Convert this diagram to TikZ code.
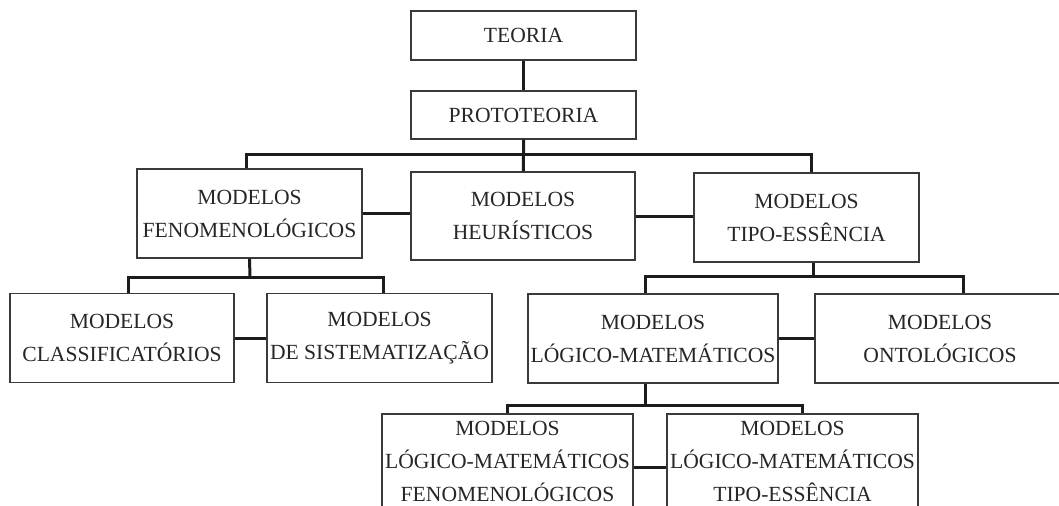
\documentclass[tikz,border=0pt]{standalone}
\usepackage{fontspec}
\setmainfont{Liberation Serif}
\usepackage{xcolor}
\usepackage{tikz}
\definecolor{edgec}{HTML}{3A3A3A}
\definecolor{linec}{HTML}{1C1C1C}
\definecolor{textc}{HTML}{262626}
\tikzset{
  box/.style={draw=edgec,line width=0.7pt,align=center,inner sep=0pt,text=textc,font=\fontsize{10.8}{16.5}\selectfont},
  wbox/.style={box,minimum width=112.5pt,minimum height=44.5pt},
  link/.style={line width=1.5pt,linec}
}
\begin{document}
\begin{tikzpicture}[x=0.5pt,y=-0.5pt]
\useasboundingbox (0,0) rectangle (1059,505);
\clip (0,0) rectangle (1059,505);
\node[box,minimum width=112.5pt,minimum height=24.5pt] (teoria) at (523.5,35.5) {TEORIA};
\node[box,minimum width=112.5pt,minimum height=24pt] (proto) at (523.5,115) {PROTOTEORIA};
\node[wbox] (feno) at (249.5,213.5) {MODELOS\\FENOMENOLÓGICOS};
\node[wbox,minimum width=112pt,minimum height=44pt] (heur) at (523,216) {MODELOS\\HEURÍSTICOS};
\node[wbox] (tipo) at (806.5,217.5) {MODELOS\\TIPO-ESSÊNCIA};
\node[wbox,minimum width=112pt] (classif) at (122,338) {MODELOS\\CLASSIFICATÓRIOS};
\node[wbox] (sistem) at (379.5,338) {MODELOS\\DE SISTEMATIZAÇÃO};
\node[wbox,minimum width=125pt] (logmat) at (653,338.5) {MODELOS\\LÓGICO-MATEMÁTICOS};
\node[wbox,minimum width=125pt] (onto) at (940,338.5) {MODELOS\\ONTOLÓGICOS};
\node[box,minimum width=125.5pt,minimum height=47.5pt] (lmfeno) at (507.5,461.5) {MODELOS\\LÓGICO-MATEMÁTICOS\\FENOMENOLÓGICOS};
\node[box,minimum width=125.5pt,minimum height=47.5pt] (lmtipo) at (792.5,461.5) {MODELOS\\LÓGICO-MATEMÁTICOS\\TIPO-ESSÊNCIA};
\coordinate (bus1) at (523.5,154);
\coordinate (bus2) at (250,277);
\coordinate (bus3) at (813,276);
\coordinate (bus4) at (645,405);
\draw[link] (teoria) -- (proto);
\draw[link] (proto) -- (bus1) -- (heur);
\draw[link] ([xshift=-1.75pt]feno.north) |- (bus1) -| ([xshift=2.25pt]tipo.north);
\draw[link] (feno.east) -- (feno.east -| heur.west);
\draw[link] (heur.east) -- (heur.east -| tipo.west);
\draw[link] (feno.south) -- (bus2);
\draw[link] ([xshift=3pt]classif.north) |- (bus2) -| ([xshift=1.75pt]sistem.north);
\draw[link] (classif.east) -- (classif.east -| sistem.west);
\draw[link] ([xshift=3.25pt]tipo.south) -- (bus3);
\draw[link] ([xshift=-4pt]logmat.north) |- (bus3) -| ([xshift=11.5pt]onto.north);
\draw[link] (logmat.east) -- (logmat.east -| onto.west);
\draw[link] ([xshift=-4pt]logmat.south) -- (bus4);
\draw[link] (lmfeno.north) |- (bus4) -| ([xshift=4.75pt]lmtipo.north);
\draw[link] ([yshift=-2.75pt]lmfeno.east) -- ([yshift=-2.75pt]lmtipo.west);
\end{tikzpicture}
\end{document}
